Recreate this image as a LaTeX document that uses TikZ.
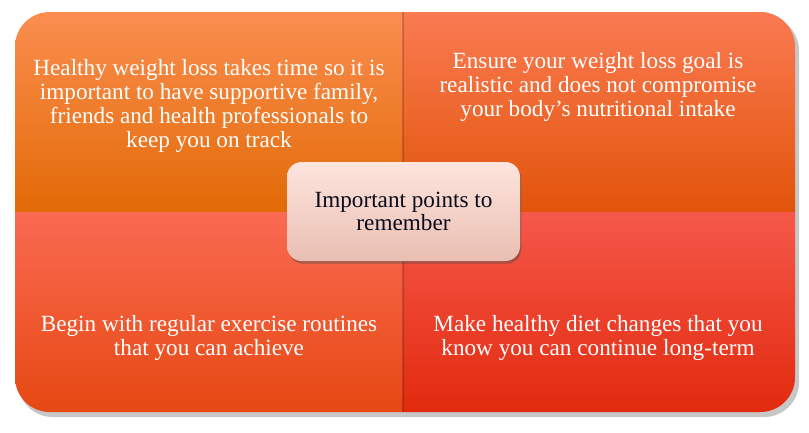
\documentclass[tikz,border=0pt]{standalone}
\usepackage{fontspec}
\setmainfont{Liberation Serif}
\usetikzlibrary{shadows,positioning}
\definecolor{tlTop}{RGB}{251,142,80}
\definecolor{tlMid}{RGB}{251,128,22}
\definecolor{tlBot}{RGB}{226,106,6}
\definecolor{trTop}{RGB}{250,122,82}
\definecolor{trMid}{RGB}{244,102,28}
\definecolor{trBot}{RGB}{226,84,10}
\definecolor{blTop}{RGB}{250,106,82}
\definecolor{blMid}{RGB}{244,90,50}
\definecolor{blBot}{RGB}{230,72,18}
\definecolor{brTop}{RGB}{245,88,74}
\definecolor{brMid}{RGB}{244,62,36}
\definecolor{brBot}{RGB}{226,42,14}
\definecolor{hubTop}{RGB}{253,229,221}
\definecolor{hubBot}{RGB}{234,190,178}
\definecolor{hubText}{RGB}{10,12,30}

\begin{document}
\begin{tikzpicture}[x=0.75pt,y=-0.75pt,
    quad/.style={align=center,text=white,font=\fontsize{17.4}{17.8}\selectfont},
    hub/.style={rounded corners=11pt,align=center,text=hubText,font=\fontsize{17.4}{17.8}\selectfont,
      minimum width=174.75pt,minimum height=74.25pt,top color=hubTop,bottom color=hubBot,
      drop shadow={shadow xshift=1pt,shadow yshift=-2pt,opacity=0.45,fill=black!70}}
  ]
  \useasboundingbox (0,0) rectangle (809,432);
  % outer frame and its shadow
  \fill[black,opacity=0.22,rounded corners=26pt] (18,16) rectangle (799,417);
  \begin{scope}
    \clip[rounded corners=26pt] (15,12) rectangle (795,412);
    \shade[top color=tlTop,middle color=tlMid,bottom color=tlBot] (15,12) rectangle (403,212);
    \shade[top color=trTop,middle color=trMid,bottom color=trBot] (403,12) rectangle (795,212);
    \shade[top color=blTop,middle color=blMid,bottom color=blBot] (15,212) rectangle (403,412);
    \shade[top color=brTop,middle color=brMid,bottom color=brBot] (403,212) rectangle (795,412);
    \draw[black,opacity=0.18,line width=1.2pt] (403,12) -- (403,412);
  \end{scope}
  % quadrant texts
  \node[quad] (health) at (209,106) {Healthy weight loss takes time so it is\\important to have supportive family,\\friends and health professionals to\\keep you on track};
  \node[quad] (goal) at (598,87) {Ensure your weight loss goal is\\realistic and does not compromise\\your body’s nutritional intake};
  \node[quad] (exercise) at (209,338) {Begin with regular exercise routines\\that you can achieve};
  \node[quad] (diet) at (598,338) {Make healthy diet changes that you\\know you can continue long-term};
  % centre
  \node[hub] (points) at (403.5,211.5) {Important points to\\remember};
\end{tikzpicture}
\end{document}
